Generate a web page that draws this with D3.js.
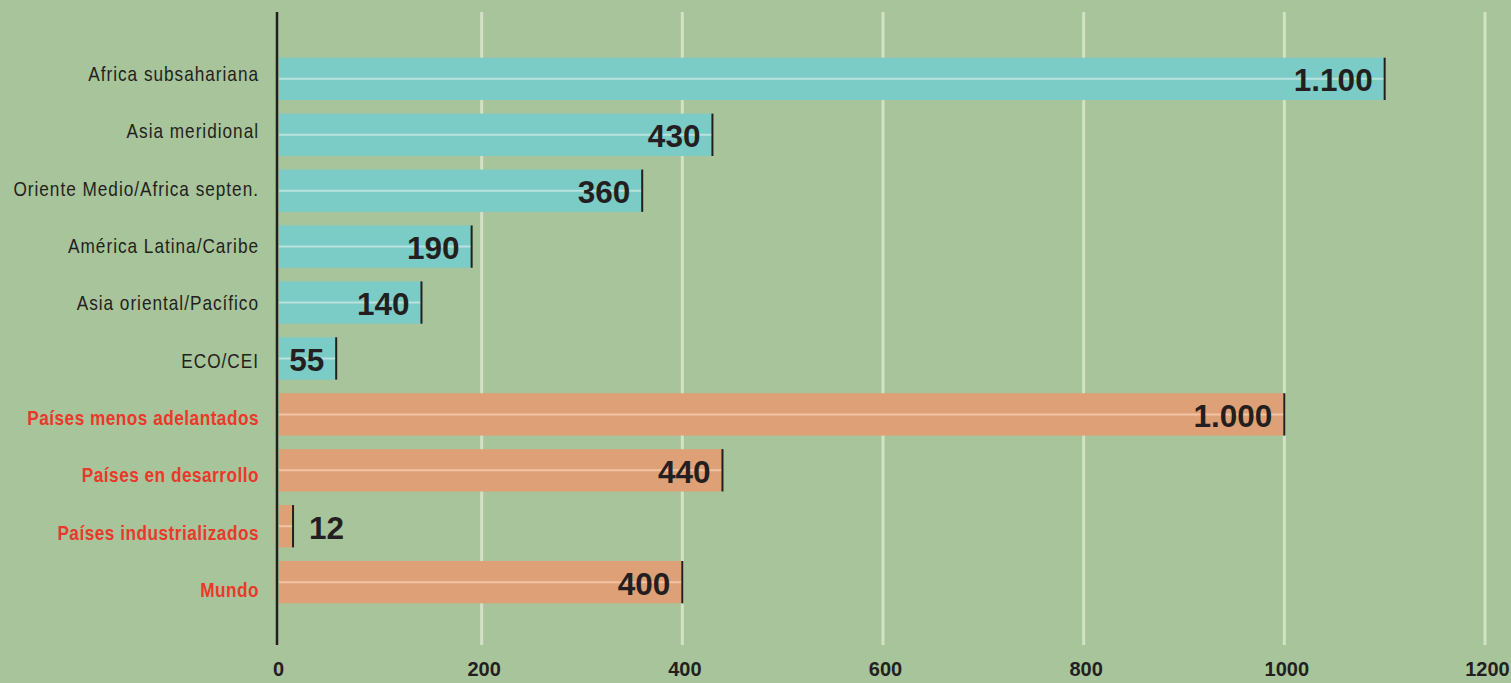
<!DOCTYPE html>
<html>
<head>
<meta charset="utf-8">
<script src="https://cdn.jsdelivr.net/npm/d3@7"></script>
<style>
  html, body { margin: 0; padding: 0; background: #a8c49a; }
  svg { display: block; }
</style>
</head>
<body>
<svg id="chart" width="1511" height="683"></svg>
<script>
// ---- data ----
const categories = [
  "Africa subsahariana",
  "Asia meridional",
  "Oriente Medio/Africa septen.",
  "América Latina/Caribe",
  "Asia oriental/Pacífico",
  "ECO/CEI",
  "Países menos adelantados",
  "Países en desarrollo",
  "Países industrializados",
  "Mundo"
];
const values = [1100, 430, 360, 190, 140, 55, 1000, 440, 12, 400];
const valueLabels = ["1.100", "430", "360", "190", "140", "55", "1.000", "440", "12", "400"];
const groups = ["region", "region", "region", "region", "region", "region", "group", "group", "group", "group"];
const xTicks = [0, 200, 400, 600, 800, 1000, 1200];

// ---- styles ----
const BG = "#a8c49a";
const barColor = { region: "#7bcbc6", group: "#dea076" };
const stripeColor = { region: "#b9e3df", group: "#f1c4a6" };
const labelColor = { region: "#231f20", group: "#e8392b" };
const DARK = "#231f20";

const svg = d3.select("#chart");
svg.append("rect").attr("width", 1511).attr("height", 683).attr("fill", BG);

const x = d3.scaleLinear().domain([0, 1200]).range([281, 1485]);
const y = d3.scaleBand().domain(categories).range([57.7, 603.3]).paddingInner(0.243).paddingOuter(0);
const yLab = d3.scalePoint().domain(categories).range([81, 597]);

const gridTop = 12, gridBottom = 645, axisX = 277;

// gridlines
svg.append("g").selectAll("line")
  .data(xTicks.filter(t => t > 0))
  .join("line")
  .attr("x1", d => x(d)).attr("x2", d => x(d))
  .attr("y1", gridTop).attr("y2", gridBottom)
  .attr("stroke", "#d2e2c4").attr("stroke-width", 3);

// bars
const data = categories.map((c, i) => ({ c, v: values[i], lab: valueLabels[i], g: groups[i] }));
const bh = y.bandwidth();

const bars = svg.append("g").selectAll("g").data(data).join("g");
bars.append("rect")
  .attr("x", axisX + 2)
  .attr("y", d => y(d.c))
  .attr("width", d => x(d.v) - axisX - 2)
  .attr("height", bh)
  .attr("fill", d => barColor[d.g]);
bars.append("line")
  .attr("x1", axisX + 2)
  .attr("x2", d => x(d.v))
  .attr("y1", d => y(d.c) + bh / 2)
  .attr("y2", d => y(d.c) + bh / 2)
  .attr("stroke", d => stripeColor[d.g])
  .attr("stroke-width", 2);
bars.append("line")
  .attr("x1", d => x(d.v)).attr("x2", d => x(d.v))
  .attr("y1", d => y(d.c)).attr("y2", d => y(d.c) + bh)
  .attr("stroke", DARK).attr("stroke-width", 2);

// value labels
bars.append("text")
  .attr("x", d => d.v < 30 ? x(d.v) + 16 : x(d.v) - 12)
  .attr("y", d => y(d.c) + bh / 2 + 12.5)
  .attr("text-anchor", d => d.v < 30 ? "start" : "end")
  .attr("font-family", "'Liberation Sans', Arial, sans-serif")
  .attr("font-weight", "bold")
  .attr("font-size", 31.5)
  .attr("fill", DARK)
  .text(d => d.lab);

// axis line
svg.append("line")
  .attr("x1", axisX).attr("x2", axisX)
  .attr("y1", gridTop).attr("y2", gridBottom)
  .attr("stroke", DARK).attr("stroke-width", 2.5);

// category labels (horizontally condensed)
svg.append("g").selectAll("g").data(data).join("g")
  .attr("transform", d => `translate(259,${yLab(d.c)}) scale(0.82,1)`)
  .append("text")
  .attr("x", 0).attr("y", 0)
  .attr("text-anchor", "end")
  .attr("font-family", "'Liberation Sans', Arial, sans-serif")
  .attr("font-size", 21)
  .attr("font-weight", d => d.g === "group" ? "bold" : "normal")
  .attr("letter-spacing", d => d.g === "group" ? "0.6px" : "1.2px")
  .attr("fill", d => labelColor[d.g])
  .text(d => d.c);

// x axis tick labels
const xAxis = d3.axisBottom(x).tickValues(xTicks).tickSize(0).tickPadding(0).tickFormat(d3.format("d"));
const ax = svg.append("g").attr("transform", "translate(0,676)").call(xAxis);
ax.select(".domain").remove();
ax.selectAll("text")
  .attr("dy", 0)
  .attr("y", 0)
  .attr("x", d => d === 0 ? axisX - x(0) + 1 : 2)
  .attr("font-family", "'Liberation Sans', Arial, sans-serif")
  .attr("font-weight", "bold")
  .attr("font-size", 20)
  .attr("fill", DARK);
</script>
</body>
</html>
